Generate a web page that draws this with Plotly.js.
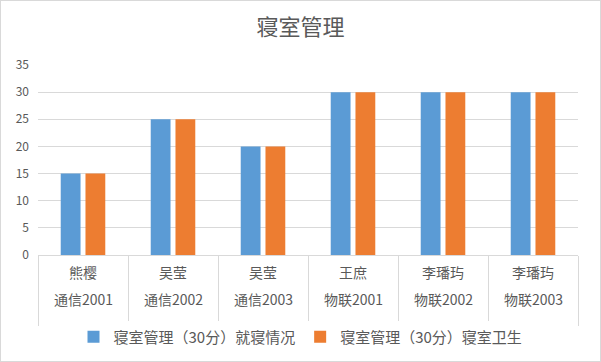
<!DOCTYPE html>
<html><head><meta charset="utf-8">
<script src="https://cdn.plot.ly/plotly-3.0.1.min.js"></script>
<style>html,body{margin:0;padding:0;background:#fff}#c{width:601px;height:362px;position:relative}
#f{position:absolute;left:0;top:0;width:601px;height:362px;box-sizing:border-box;border:1px solid #d9d9d9;pointer-events:none}</style>
</head><body><div id="c"></div><div id="f"></div>
<script>
const names = ["熊樱","吴莹","吴莹","王庶","李璠玙","李璠玙"];
const classes = ["通信2001","通信2002","通信2003","物联2001","物联2002","物联2003"];
const seriesA = [15,25,20,30,30,30];
const seriesB = [15,25,20,30,30,30];
const seriesNames = ["寝室管理（30分）就寝情况","寝室管理（30分）寝室卫生"];
const yTicks = [0,5,10,15,20,25,30,35];

const cats = names.map((n,i)=>n+"|"+classes[i]);
const font = "'Noto Sans CJK SC', 'Microsoft YaHei', sans-serif";
const grey = "#595959";
const ann = [];
cats.forEach((c,i)=>{
  ann.push({x:c,xref:'x',y:0,yref:'y',yshift:-17,text:names[i],showarrow:false,font:{family:font,size:14,color:grey}});
  ann.push({x:c,xref:'x',y:0,yref:'y',yshift:-44,text:classes[i],showarrow:false,font:{family:font,size:14,color:grey}});
});
const data = [
  {type:'bar',x:cats,y:seriesA,name:seriesNames[0],marker:{color:'#5B9BD5'}},
  {type:'bar',x:cats,y:seriesB,name:seriesNames[1],marker:{color:'#ED7D31'}}
];
const layout = {
  width:601,height:362,
  margin:{l:38,r:23,t:65,b:107},
  paper_bgcolor:'#fff',plot_bgcolor:'#fff',
  font:{family:font,color:grey},
  title:{text:"寝室管理",font:{family:font,size:22,color:grey},x:0.5,xref:'container',xanchor:'center',y:1-27/362,yref:'container',yanchor:'middle'},
  barmode:'group',bargap:0.45,bargroupgap:0.2,
  xaxis:{type:'category',tickvals:cats,ticktext:cats.map(()=>""),tickson:'boundaries',ticks:'outside',ticklen:70,tickcolor:'#d9d9d9',tickwidth:1,
         showline:true,linecolor:'#d9d9d9',showgrid:false,fixedrange:true},
  yaxis:{range:[0,35],tickvals:yTicks,showgrid:true,gridcolor:'#d9d9d9',zeroline:false,showline:false,
         tickfont:{family:font,size:12,color:grey},ticks:'',ticklabelstandoff:8},
  showlegend:true,
  legend:{orientation:'h',x:0.5,xref:'container',xanchor:'center',y:1-337/362,yref:'container',yanchor:'middle',
          font:{family:font,size:15,color:grey},itemwidth:30,traceorder:'normal'},
  annotations:ann
};
Plotly.newPlot('c',data,layout,{displayModeBar:false,staticPlot:true});
</script></body></html>
